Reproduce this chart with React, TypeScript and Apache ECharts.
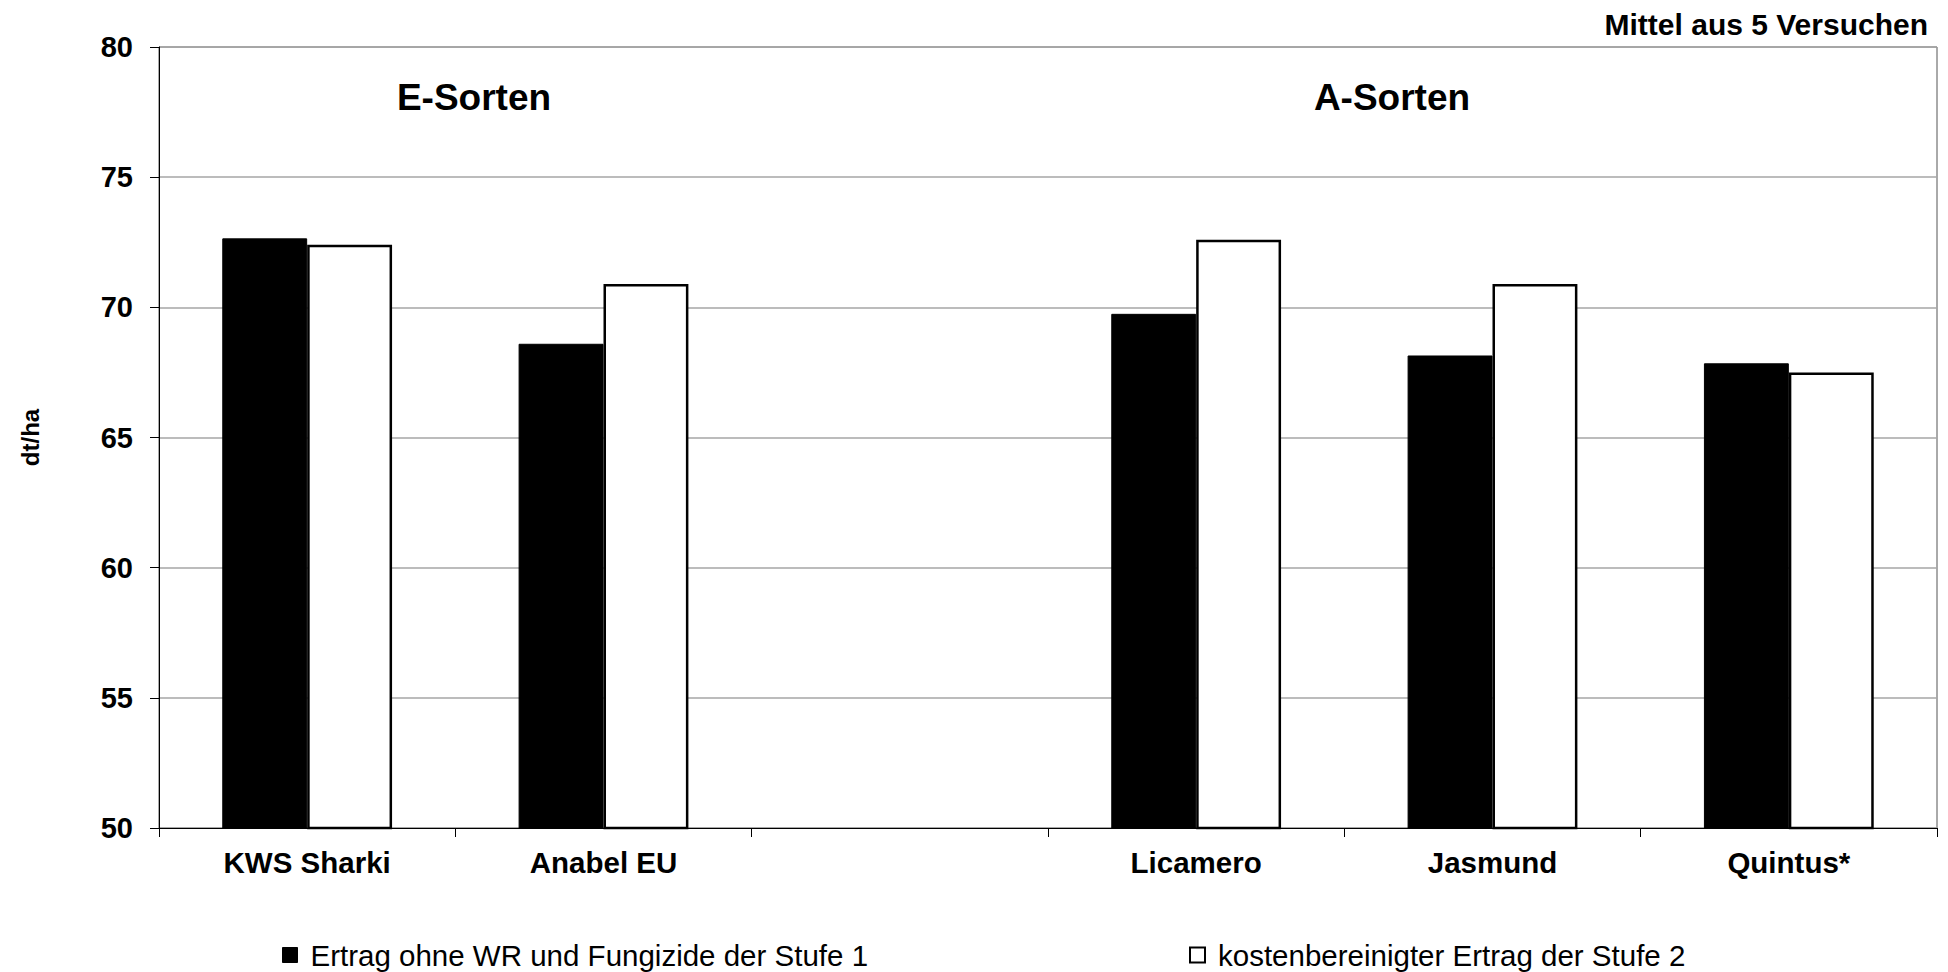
import React, { useEffect, useRef } from "react";
import * as echarts from "echarts";

const categories = ["KWS Sharki", "Anabel EU", "", "Licamero", "Jasmund", "Quintus*"];
const seriesNames = [
  "Ertrag ohne WR und Fungizide der Stufe 1",
  "kostenbereinigter Ertrag der Stufe 2",
];
const stufe1Values: (number | string)[] = [72.65, 68.6, "-", 69.75, 68.15, 67.85];
const stufe2Values: (number | string)[] = [72.4, 70.9, "-", 72.6, 70.9, 67.5];
const groupLabels = ["E-Sorten", "A-Sorten"];
const noteText = "Mittel aus 5 Versuchen";
const yAxisName = "dt/ha";

const FONT = "'Liberation Sans', Arial, sans-serif";

export default function App() {
  const ref = useRef<HTMLDivElement>(null);

  useEffect(() => {
    if (!ref.current) return;
    const chart = echarts.init(ref.current, undefined, { renderer: "svg" });
    const legendText = {
      fontSize: 29.5,
      color: "#000",
      fontFamily: FONT,
      padding: [0, 0, 0, 8],
    };
    chart.setOption({
      animation: false,
      backgroundColor: "#fff",
      textStyle: { fontFamily: FONT },
      grid: {
        left: 159,
        right: 11,
        top: 47,
        bottom: 144,
        show: true,
        borderColor: "#555",
        borderWidth: 1,
        backgroundColor: "transparent",
      },
      legend: [
        {
          left: 282,
          top: 940,
          padding: 0,
          itemWidth: 15,
          itemHeight: 15,
          selectedMode: false,
          textStyle: legendText,
          data: [
            {
              name: seriesNames[0],
              icon: "rect",
              itemStyle: { color: "#000", borderColor: "#000", borderWidth: 1 },
            },
          ],
        },
        {
          left: 1189,
          top: 940,
          padding: 0,
          itemWidth: 15,
          itemHeight: 15,
          selectedMode: false,
          textStyle: legendText,
          data: [
            {
              name: seriesNames[1],
              icon: "rect",
              itemStyle: { color: "#fff", borderColor: "#000", borderWidth: 2 },
            },
          ],
        },
      ],
      xAxis: {
        type: "category",
        data: categories,
        boundaryGap: true,
        axisLine: { show: true, lineStyle: { color: "#000", width: 1 } },
        axisTick: {
          show: true,
          interval: 0,
          alignWithLabel: false,
          length: 9,
          lineStyle: { color: "#000" },
        },
        axisLabel: {
          interval: 0,
          margin: 19,
          fontSize: 29.5,
          fontWeight: "bold",
          color: "#000",
          fontFamily: FONT,
        },
        splitLine: { show: false },
      },
      yAxis: {
        type: "value",
        min: 50,
        max: 80,
        interval: 5,
        name: yAxisName,
        nameLocation: "middle",
        nameRotate: 90,
        nameGap: 117,
        nameTextStyle: {
          fontSize: 24,
          fontWeight: "bold",
          color: "#000",
          fontFamily: FONT,
        },
        axisLine: { show: true, lineStyle: { color: "#000", width: 1 } },
        axisTick: { show: true, length: 9, lineStyle: { color: "#000" } },
        axisLabel: {
          margin: 26,
          fontSize: 29,
          fontWeight: "bold",
          color: "#000",
          fontFamily: FONT,
        },
        splitLine: { show: true, lineStyle: { color: "#a6a6a6", width: 1.5 } },
      },
      series: [
        {
          name: seriesNames[0],
          type: "bar",
          data: stufe1Values,
          barGap: "0%",
          barCategoryGap: "42.7%",
          itemStyle: { color: "#000", borderColor: "#000", borderWidth: 1 },
        },
        {
          name: seriesNames[1],
          type: "bar",
          data: stufe2Values,
          barGap: "0%",
          barCategoryGap: "42.7%",
          itemStyle: { color: "#fff", borderColor: "#000", borderWidth: 2.5 },
        },
      ],
      graphic: [
        {
          type: "text",
          x: 474,
          y: 97,
          style: {
            text: groupLabels[0],
            fontSize: 37,
            fontWeight: "bold",
            fill: "#000",
            fontFamily: FONT,
            textAlign: "center",
            textVerticalAlign: "middle",
          },
        },
        {
          type: "text",
          x: 1392,
          y: 97,
          style: {
            text: groupLabels[1],
            fontSize: 37,
            fontWeight: "bold",
            fill: "#000",
            fontFamily: FONT,
            textAlign: "center",
            textVerticalAlign: "middle",
          },
        },
        {
          type: "text",
          x: 1928,
          y: 24,
          style: {
            text: noteText,
            fontSize: 30,
            fontWeight: "bold",
            fill: "#000",
            fontFamily: FONT,
            textAlign: "right",
            textVerticalAlign: "middle",
          },
        },
      ],
    });
    return () => chart.dispose();
  }, []);

  return (
    <div
      ref={ref}
      style={{ position: "fixed", left: 0, top: 0, width: 1948, height: 972, background: "#fff" }}
    />
  );
}
